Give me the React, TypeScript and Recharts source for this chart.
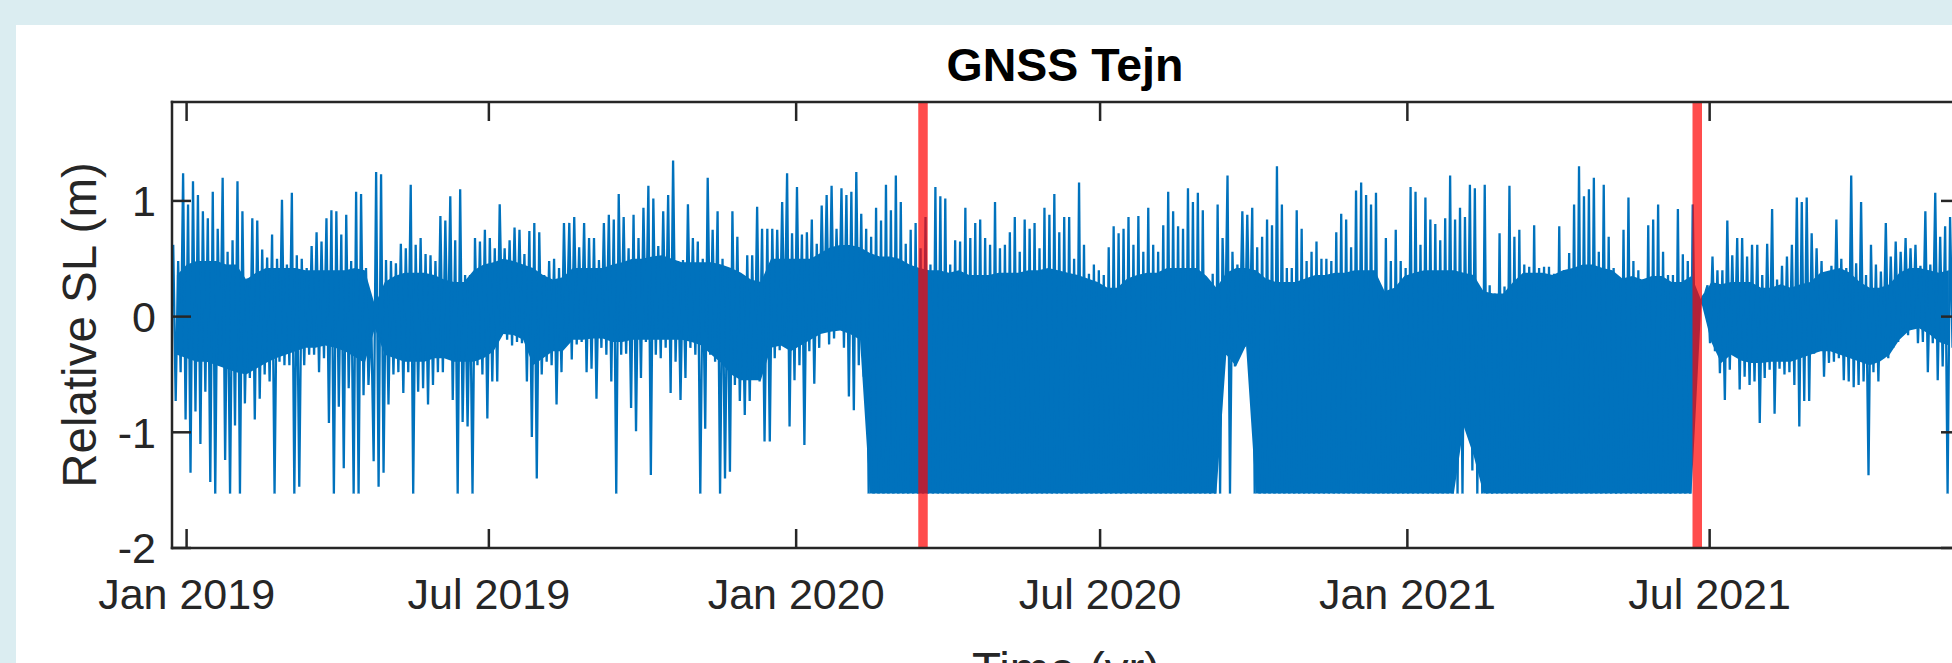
import React from 'react';
import { ComposedChart, Line, Area, XAxis, YAxis } from 'recharts';

// ---------- data ----------
const DAY = 86400000;
const binDays = 2.96;

const segmentStarts = [
  '2018-12-23T06:00:00Z',
  '2019-04-20T19:00:00Z',
  '2019-08-17T10:00:00Z',
  '2019-12-14T00:00:00Z',
  '2020-04-10T14:00:00Z',
  '2020-08-07T02:00:00Z',
  '2020-12-03T14:00:00Z',
  '2021-04-01T05:00:00Z',
  '2021-07-28T19:00:00Z',
];

// spike tips (highest / lowest value per ~3-day bin)
const hiSeg1 = [0.62,0.48,1.24,0.97,1.17,1.05,0.91,0.85,1.08,0.76,1.20,0.56,0.66,1.17,0.91,0.33,0.85,0.83,0.58,0.51,0.71,0.50,1.01,0.45,1.07,0.53,0.50,0.42,0.61,0.73,0.65,0.85,0.92,0.91,0.71,0.88,0.48,1.08,1.06,0.42];
const loSeg1 = [-0.73,-0.48,-0.89,-1.35,-0.82,-1.10,-0.65,-1.43,-1.53,-0.42,-1.24,-1.53,-0.94,-1.53,-0.75,-0.53,-0.89,-0.71,-0.50,-0.56,-1.53,-0.39,-0.42,-0.42,-1.53,-1.47,-0.42,-0.33,-0.33,-0.48,-0.36,-0.92,-1.53,-0.78,-1.31,-0.62,-1.53,-1.53,-0.68,-0.59];

const hiSeg2 = [0.00,1.25,1.23,0.49,0.48,0.46,0.63,0.59,1.14,0.62,0.68,0.54,0.53,0.48,0.87,0.83,1.04,0.66,1.10,0.36,0.36,0.68,0.65,0.75,0.68,0.59,0.97,0.59,0.66,0.77,0.75,0.54,0.74,0.81,0.73,0.36,0.48,0.50,0.42,0.81];
const loSeg2 = [-1.25,-1.47,-1.35,-0.76,-0.50,-0.48,-0.66,-0.48,-1.53,-0.65,-0.62,-0.76,-0.59,-0.48,-0.48,-0.36,-0.72,-1.53,-0.91,-0.95,-1.53,-0.42,-0.50,-0.88,-0.56,-0.56,-0.10,-0.20,-0.25,-0.22,-0.23,-0.56,-1.04,-1.40,-0.50,-0.39,-0.42,-0.76,-0.48,-0.24];

const hiSeg3 = [0.81,0.86,0.60,0.81,0.68,0.68,0.49,0.81,0.88,0.84,1.06,0.86,0.59,0.88,0.68,0.94,1.13,1.02,0.61,0.91,1.05,1.35,0.48,0.49,0.97,0.68,0.65,0.50,1.20,0.75,0.91,0.50,0.42,0.91,0.69,0.36,0.53,0.53,0.95,0.76];
const loSeg3 = [-0.37,-0.24,-0.22,-0.48,-0.45,-0.71,-0.27,-0.33,-0.56,-1.53,-0.33,-0.32,-0.79,-0.99,-0.53,-0.22,-1.37,-0.33,-0.36,-0.27,-0.66,-0.39,-0.72,-0.53,-0.27,-0.33,-1.53,-0.97,-0.33,-0.39,-1.53,-1.40,-1.34,-0.59,-0.73,-0.85,-0.73,-0.53,-0.56,-1.08];

const hiSeg4 = [0.76,0.76,0.75,0.99,1.24,0.72,1.12,0.71,0.73,0.84,0.63,0.96,1.05,1.13,0.76,1.11,1.05,1.08,1.25,0.89,0.76,0.69,0.94,0.83,1.14,0.92,1.22,0.99,0.63,0.75,0.81,0.59,0.86,0.45,1.12,1.04,1.02,0.45,0.66,0.65];
const loSeg4 = [-1.08,-0.36,-0.29,-0.16,-0.95,-0.55,-0.42,-1.11,-0.30,-0.58,-0.27,-0.10,-0.24,-0.19,-0.10,-0.27,-0.69,-0.81,-0.42,-0.52,-1.53,-1.53,-1.53,-1.53,-1.53,-1.53,-1.53,-1.53,-1.53,-1.53,-1.53,-1.53,-1.53,-1.53,-1.53,-1.53,-1.53,-1.53,-1.53,-1.53];

const hiSeg5 = [0.94,0.68,0.81,0.84,0.68,0.62,0.99,0.59,0.62,0.73,0.86,0.56,0.84,0.76,0.81,0.59,0.94,0.88,1.06,0.73,0.86,0.86,0.50,1.16,0.62,0.37,0.45,0.40,0.36,0.60,0.78,0.72,0.76,0.86,0.62,0.87,0.56,0.94,0.62,0.56];
const loSeg5 = [-1.53,-1.53,-1.53,-1.53,-1.53,-1.53,-1.53,-1.53,-1.53,-1.53,-1.53,-1.53,-1.53,-1.53,-1.53,-1.53,-1.53,-1.53,-1.53,-1.53,-1.53,-1.53,-1.53,-1.53,-1.53,-1.53,-1.53,-1.53,-1.53,-1.53,-1.53,-1.53,-1.53,-1.53,-1.53,-1.53,-1.53,-1.53,-1.53,-1.53];

const hiSeg6 = [0.79,1.08,0.91,0.78,0.76,1.11,0.99,1.07,0.92,0.27,0.37,0.97,0.68,1.22,0.56,0.45,0.91,0.88,0.94,0.60,0.69,0.84,0.79,1.30,0.97,0.42,0.42,0.92,0.76,0.48,0.56,0.65,0.50,0.50,0.48,0.73,0.89,0.84,0.60,1.09];
const loSeg6 = [-1.53,-1.53,-1.53,-1.53,-1.53,-1.53,-1.53,-1.53,-1.53,-1.53,-1.53,-1.53,-0.25,-1.53,-0.43,-0.20,-0.26,-0.23,-1.53,-1.53,-1.53,-1.53,-1.53,-1.53,-1.53,-1.53,-1.53,-1.53,-1.53,-1.53,-1.53,-1.53,-1.53,-1.53,-1.53,-1.53,-1.53,-1.53,-1.53,-1.53];

const hiSeg7 = [1.16,1.05,0.97,1.07,0.22,0.68,0.48,0.75,0.48,0.42,1.12,1.08,0.62,1.03,0.84,0.80,0.66,0.85,1.22,0.84,0.94,0.86,1.14,1.11,0.22,1.14,0.27,0.20,0.72,0.26,1.13,0.69,0.75,0.45,0.43,0.79,0.42,0.43,0.43,0.37];
const loSeg7 = [-1.53,-1.53,-1.53,-1.53,-1.53,-1.53,-1.53,-1.53,-1.53,-1.53,-1.53,-1.53,-1.53,-1.53,-1.53,-1.53,-1.53,-1.53,-1.53,-1.53,-1.53,-0.95,-1.33,-1.53,-1.53,-1.53,-1.53,-1.53,-1.53,-1.53,-1.53,-1.53,-1.53,-1.53,-1.53,-1.53,-1.53,-1.53,-1.53,-1.53];

const hiSeg8 = [0.78,0.40,0.55,0.97,1.30,1.04,1.10,1.20,0.56,1.14,0.69,0.42,0.33,0.75,1.03,0.48,0.40,0.32,0.79,0.84,0.97,0.56,0.36,0.36,0.93,0.54,0.48,0.97,0.07,0.17,0.27,0.52,0.40,0.40,0.83,0.53,0.68,0.68,0.52,0.62];
const loSeg8 = [-1.53,-1.53,-1.53,-1.53,-1.53,-1.53,-1.53,-1.53,-1.53,-1.53,-1.53,-1.53,-1.53,-1.53,-1.53,-1.53,-1.53,-1.53,-1.53,-1.53,-1.53,-1.53,-1.53,-1.53,-1.53,-1.53,-1.53,-0.55,0.10,0.20,-0.23,-0.30,-0.49,-0.72,-0.46,-0.33,-0.63,-0.52,-0.59,-0.56];

const hiSeg9 = [0.62,0.36,0.63,0.93,0.32,0.44,0.52,0.62,1.03,0.99,1.03,0.72,0.59,0.48,0.22,0.44,0.84,0.50,0.42,1.22,0.46,0.99,0.36,0.62,0.45,0.39,0.81,0.52,0.65,0.56,0.68,0.59,0.62,0.44,0.91,0.45,1.07,0.69,0.78,0.86];
const loSeg9 = [-0.92,-0.53,-0.46,-0.84,-0.45,-0.50,-0.48,-0.59,-0.95,-0.73,-0.73,-0.32,-0.30,-0.52,-0.40,-0.39,-0.36,-0.55,-0.56,-0.61,-0.59,-0.56,-1.37,-0.48,-0.56,-0.36,-0.36,-0.27,-0.22,-0.10,-0.16,-0.10,-0.23,-0.22,-0.48,-0.23,-0.55,-0.43,-1.53,-0.27];

// solid core of the record (top / bottom of the dense band, one value per ~6 days)
const coreHiSeg1 = [0.36,0.45,0.48,0.48,0.48,0.45,0.45,0.32,0.38,0.42,0.42,0.42,0.42,0.40,0.40,0.40,0.40,0.40,0.42,0.40];
const coreLoSeg1 = [-0.33,-0.36,-0.39,-0.39,-0.42,-0.45,-0.48,-0.50,-0.45,-0.40,-0.36,-0.33,-0.30,-0.27,-0.27,-0.25,-0.27,-0.30,-0.35,-0.40];
const coreHiSeg2 = [0.10,0.30,0.35,0.38,0.38,0.38,0.36,0.32,0.30,0.30,0.40,0.45,0.47,0.50,0.48,0.45,0.42,0.36,0.32,0.34];
const coreLoSeg2 = [-0.10,-0.33,-0.36,-0.39,-0.39,-0.39,-0.36,-0.36,-0.39,-0.39,-0.39,-0.36,-0.30,-0.15,-0.16,-0.20,-0.42,-0.36,-0.30,-0.30];
const coreHiSeg3 = [0.42,0.42,0.42,0.42,0.45,0.47,0.50,0.50,0.52,0.53,0.50,0.47,0.47,0.47,0.47,0.45,0.42,0.38,0.32,0.30];
const coreLoSeg3 = [-0.20,-0.20,-0.19,-0.19,-0.22,-0.22,-0.20,-0.20,-0.20,-0.20,-0.20,-0.20,-0.22,-0.25,-0.33,-0.40,-0.50,-0.55,-0.55,-0.55];
const coreHiSeg4 = [0.50,0.50,0.50,0.50,0.50,0.55,0.60,0.62,0.62,0.60,0.55,0.52,0.52,0.50,0.45,0.42,0.40,0.40,0.38,0.40];
const coreLoSeg4 = [-0.27,-0.25,-0.30,-0.25,-0.20,-0.15,-0.13,-0.12,-0.15,-0.20,-1.53,-1.53,-1.53,-1.53,-1.53,-1.53,-1.53,-1.53,-1.53,-1.53];
const coreHiSeg5 = [0.36,0.36,0.36,0.38,0.38,0.38,0.40,0.40,0.42,0.40,0.38,0.36,0.33,0.30,0.25,0.25,0.33,0.36,0.38,0.38];
const coreLoSeg5 = [-1.53,-1.53,-1.53,-1.53,-1.53,-1.53,-1.53,-1.53,-1.53,-1.53,-1.53,-1.53,-1.53,-1.53,-1.53,-1.53,-1.53,-1.53,-1.53,-1.53];
const coreHiSeg6 = [0.42,0.42,0.42,0.42,0.35,0.25,0.38,0.42,0.42,0.40,0.33,0.30,0.30,0.30,0.33,0.36,0.36,0.38,0.38,0.40];
const coreLoSeg6 = [-1.53,-1.53,-1.53,-1.53,-1.53,-1.53,-0.33,-0.43,-0.25,-1.53,-1.53,-1.53,-1.53,-1.53,-1.53,-1.53,-1.53,-1.53,-1.53,-1.53];
const coreHiSeg7 = [0.40,0.40,0.22,0.25,0.35,0.38,0.40,0.40,0.40,0.40,0.38,0.36,0.22,0.20,0.20,0.30,0.38,0.38,0.38,0.36];
const coreLoSeg7 = [-1.53,-1.53,-1.53,-1.53,-1.53,-1.53,-1.53,-1.53,-1.53,-1.53,-0.95,-1.20,-1.53,-1.53,-1.53,-1.53,-1.53,-1.53,-1.53,-1.53];
const coreHiSeg8 = [0.40,0.42,0.45,0.45,0.42,0.40,0.33,0.35,0.32,0.35,0.35,0.30,0.30,0.35,0.14,0.30,0.28,0.30,0.30,0.30];
const coreLoSeg8 = [-1.53,-1.53,-1.53,-1.53,-1.53,-1.53,-1.53,-1.53,-1.53,-1.53,-1.53,-1.53,-1.53,-1.53,0.12,-0.22,-0.40,-0.33,-0.38,-0.40];
const coreHiSeg9 = [0.25,0.25,0.28,0.25,0.28,0.30,0.38,0.40,0.42,0.38,0.30,0.25,0.25,0.28,0.38,0.42,0.42,0.40,0.38,0.40];
const coreLoSeg9 = [-0.40,-0.39,-0.39,-0.39,-0.36,-0.33,-0.30,-0.30,-0.33,-0.36,-0.39,-0.42,-0.39,-0.33,-0.20,-0.12,-0.10,-0.15,-0.22,-0.25];

const highs = [hiSeg1, hiSeg2, hiSeg3, hiSeg4, hiSeg5, hiSeg6, hiSeg7, hiSeg8, hiSeg9];
const lows = [loSeg1, loSeg2, loSeg3, loSeg4, loSeg5, loSeg6, loSeg7, loSeg8, loSeg9];
const coreHighs = [coreHiSeg1, coreHiSeg2, coreHiSeg3, coreHiSeg4, coreHiSeg5, coreHiSeg6, coreHiSeg7, coreHiSeg8, coreHiSeg9];
const coreLows = [coreLoSeg1, coreLoSeg2, coreLoSeg3, coreLoSeg4, coreLoSeg5, coreLoSeg6, coreLoSeg7, coreLoSeg8, coreLoSeg9];

const xStart = '2018-12-23T06:14:00Z';
const xEnd = '2021-11-27T22:00:00Z';
const xTickDates = ['2019-01-01T00:00:00Z', '2019-07-01T00:00:00Z', '2020-01-01T00:00:00Z', '2020-07-01T00:00:00Z', '2021-01-01T00:00:00Z', '2021-07-01T00:00:00Z'];
const xTickLabels = ['Jan 2019', 'Jul 2019', 'Jan 2020', 'Jul 2020', 'Jan 2021', 'Jul 2021'];
const yTicks = [-2, -1, 0, 1];
const yTickLabels = ['-2', '-1', '0', '1'];
const yDomain: [number, number] = [-2, 1.855];
const changeDates = ['2020-03-16T23:00:00Z', '2021-06-23T14:00:00Z'];

const titleText = 'GNSS Tejn';
const yLabelText = 'Relative SL (m)';
const xLabelText = 'Time (yr)';

// ---------- derived ----------
const lineData: { t: number; v: number }[] = [];
segmentStarts.forEach((s, k) => {
  const t0 = Date.parse(s);
  highs[k].forEach((h, j) => {
    lineData.push({ t: t0 + (j * binDays + 0.25 * binDays) * DAY, v: h });
    lineData.push({ t: t0 + (j * binDays + 0.75 * binDays) * DAY, v: lows[k][j] });
  });
});
const coreData: { t: number; r: [number, number] }[] = [];
segmentStarts.forEach((s, k) => {
  const t0 = Date.parse(s);
  coreHighs[k].forEach((h, i) => {
    coreData.push({ t: t0 + (2 * i + 1) * binDays * DAY, r: [coreLows[k][i], h] });
  });
});
const xTickValues = xTickDates.map((d) => Date.parse(d));
const xDomain: [number, number] = [Date.parse(xStart), Date.parse(xEnd)];
// each change marker is a vertical segment spanning the full y range
const changeLines = changeDates.map((d) => [
  { t: Date.parse(d), v: yDomain[0] },
  { t: Date.parse(d), v: yDomain[1] },
]);

// ---------- styles ----------
const FONT = '"Liberation Sans", Arial, Helvetica, sans-serif';
const AX = '#262626';
const TL = 19;
const AW = 2.5;
const BLUE = '#0072BD';

const BottomTick = (props: any) => {
  const { x, y, payload } = props;
  const i = xTickValues.indexOf(payload.value);
  return (
    <g>
      <line x1={x} x2={x} y1={y} y2={y - TL} stroke={AX} strokeWidth={AW} />
      <text x={x} y={y + 61} textAnchor="middle" fontFamily={FONT} fontSize={43} fill={AX}>
        {i >= 0 ? xTickLabels[i] : ''}
      </text>
    </g>
  );
};

const TopTick = (props: any) => {
  const { x, y } = props;
  return <line x1={x} x2={x} y1={y} y2={y + TL} stroke={AX} strokeWidth={AW} />;
};

const LeftTick = (props: any) => {
  const { x, y, payload } = props;
  const i = yTicks.indexOf(payload.value);
  return (
    <g>
      <line x1={x} x2={x + TL} y1={y} y2={y} stroke={AX} strokeWidth={AW} />
      <text x={x - 16} y={y} dy="0.36em" textAnchor="end" fontFamily={FONT} fontSize={43} fill={AX}>
        {i >= 0 ? yTickLabels[i] : ''}
      </text>
    </g>
  );
};

const RightTick = (props: any) => {
  const { x, y } = props;
  return <line x1={x} x2={x - TL} y1={y} y2={y} stroke={AX} strokeWidth={AW} />;
};

const axisLineStyle = { stroke: AX, strokeWidth: AW, strokeLinecap: 'square' as const };

export default function App() {
  return (
    <div
      style={{
        position: 'fixed',
        left: 0,
        top: 0,
        width: 1952,
        height: 663,
        overflow: 'hidden',
        background: '#DBEDF1',
      }}
    >
      <div style={{ position: 'absolute', left: 16, top: 25, width: 2000, height: 700, background: '#FFFFFF' }} />
      <div style={{ position: 'absolute', left: 0, top: 0 }}>
        <ComposedChart width={1990} height={663} margin={{ top: 82, right: 10, bottom: 0, left: 0 }}>
          <XAxis
            xAxisId="b"
            dataKey="t"
            type="number"
            domain={xDomain}
            allowDataOverflow
            ticks={xTickValues}
            interval={0}
            orientation="bottom"
            height={115}
            tickSize={0}
            tickMargin={0}
            tickLine={false}
            axisLine={axisLineStyle}
            tick={(p: any) => <BottomTick {...p} />}
          />
          <XAxis
            xAxisId="top"
            dataKey="t"
            type="number"
            domain={xDomain}
            allowDataOverflow
            ticks={xTickValues}
            interval={0}
            orientation="top"
            height={20}
            tickSize={0}
            tickMargin={0}
            tickLine={false}
            axisLine={axisLineStyle}
            tick={(p: any) => <TopTick {...p} />}
          />
          <YAxis
            yAxisId="l"
            type="number"
            domain={yDomain}
            allowDataOverflow
            ticks={yTicks}
            interval={0}
            orientation="left"
            width={172}
            tickSize={0}
            tickMargin={0}
            tickLine={false}
            axisLine={axisLineStyle}
            tick={(p: any) => <LeftTick {...p} />}
          />
          <YAxis
            yAxisId="r"
            type="number"
            domain={yDomain}
            allowDataOverflow
            ticks={yTicks}
            interval={0}
            orientation="right"
            width={20}
            tickSize={0}
            tickMargin={0}
            tickLine={false}
            axisLine={axisLineStyle}
            tick={(p: any) => <RightTick {...p} />}
          />
          <Area
            xAxisId="b"
            yAxisId="l"
            data={coreData}
            type="linear"
            dataKey="r"
            stroke="none"
            fill={BLUE}
            fillOpacity={1}
            dot={false}
            activeDot={false}
            isAnimationActive={false}
          />
          <Line
            xAxisId="b"
            yAxisId="l"
            data={lineData}
            type="linear"
            dataKey="v"
            stroke={BLUE}
            strokeWidth={2.3}
            dot={false}
            activeDot={false}
            isAnimationActive={false}
          />
          {changeLines.map((seg, i) => (
            <Line
              key={'chg' + i}
              xAxisId="b"
              yAxisId="l"
              data={seg}
              type="linear"
              dataKey="v"
              stroke="#FF0000"
              strokeOpacity={0.7}
              strokeWidth={9.5}
              strokeLinecap="butt"
              dot={false}
              activeDot={false}
              isAnimationActive={false}
            />
          ))}
        </ComposedChart>
      </div>
      <svg
        width={1952}
        height={663}
        style={{ position: 'absolute', left: 0, top: 0, pointerEvents: 'none' }}
      >
        <text x={1065} y={81} textAnchor="middle" fontFamily={FONT} fontWeight="bold" fontSize={46.5} fill="#000000">
          {titleText}
        </text>
        <text
          x={96}
          y={325}
          transform="rotate(-90 96 325)"
          textAnchor="middle"
          fontFamily={FONT}
          fontSize={47.5}
          fill={AX}
        >
          {yLabelText}
        </text>
        <text x={1066} y={686} textAnchor="middle" fontFamily={FONT} fontSize={47.5} fill={AX}>
          {xLabelText}
        </text>
      </svg>
    </div>
  );
}
